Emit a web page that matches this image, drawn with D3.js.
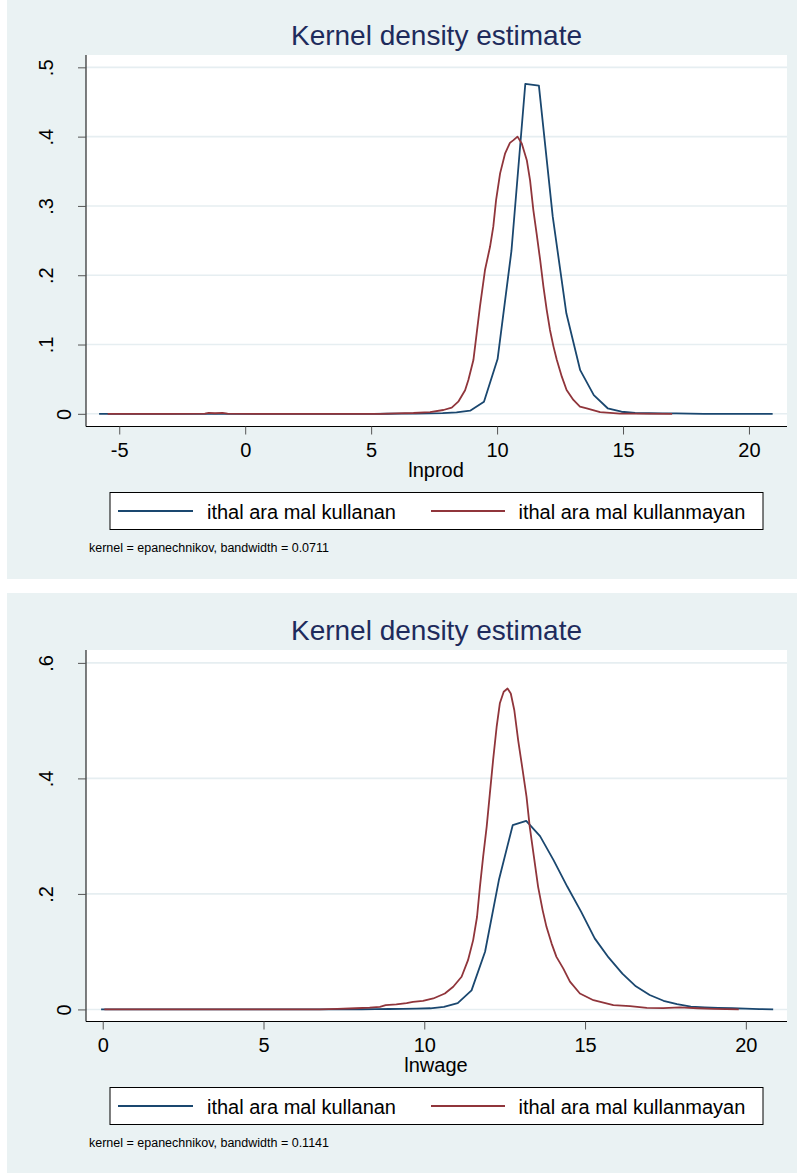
<!DOCTYPE html>
<html>
<head>
<meta charset="utf-8">
<script src="https://cdn.jsdelivr.net/npm/d3@7"></script>
<style>
  html, body { margin: 0; padding: 0; background: #ffffff; }
  svg { display: block; }
  text { font-family: "Liberation Sans", Arial, Helvetica, sans-serif; }
</style>
</head>
<body>
<svg id="chart" width="797" height="1173"></svg>
<script>
// ---------------- DATA ----------------
const seriesNames = ["ithal ara mal kullanan", "ithal ara mal kullanmayan"];
const chartTitle = "Kernel density estimate";

// Panel 1: lnprod
const prodTitle = "lnprod";
const prodNote = "kernel = epanechnikov, bandwidth = 0.0711";
const prodXTicks = [-5, 0, 5, 10, 15, 20];
const prodXTickLabels = ["-5", "0", "5", "10", "15", "20"];
const prodYTicks = [0, 0.1, 0.2, 0.3, 0.4, 0.5];
const prodYTickLabels = ["0", ".1", ".2", ".3", ".4", ".5"];

const prodUserX = [-5.80, -5.25, -4.71, -4.16, -3.62, -3.07, -2.53, -1.98, -1.43, -0.89,
  -0.34, 0.20, 0.75, 1.29, 1.84, 2.39, 2.93, 3.48, 4.02, 4.57,
  5.11, 5.66, 6.21, 6.75, 7.30, 7.84, 8.39, 8.93, 9.48, 10.02,
  10.57, 11.12, 11.66, 12.21, 12.75, 13.30, 13.84, 14.39, 14.94, 15.48,
  16.03, 16.57, 17.12, 17.66, 18.21, 18.76, 19.30, 19.85, 20.39, 20.94];
const prodUserY = [0, 0, 0, 0, 0, 0, 0, 0, 0, 0,
  0, 0, 0, 0, 0, 0, 0, 0, 0, 0,
  0, 0.0001, 0.0002, 0.0003, 0.0006, 0.001, 0.0022, 0.0045, 0.0175, 0.079,
  0.235, 0.476, 0.4735, 0.2845, 0.145, 0.063, 0.027, 0.008, 0.003, 0.0012,
  0.0008, 0.0006, 0.0005, 0.0002, 0, 0, 0, 0, 0, 0];

const prodNonUserX = [-5.46, -3.0, -1.6, -1.45, -1.2, -0.9, -0.7, 0.5, 5.35, 6.0,
  6.68, 7.34, 7.87, 8.20, 8.46, 8.73, 8.86, 9.06, 9.19, 9.32,
  9.52, 9.72, 9.85, 9.96, 10.12, 10.32, 10.51, 10.65, 10.81, 10.98,
  11.18, 11.31, 11.44, 11.57, 11.71, 11.84, 11.97, 12.10, 12.24, 12.37,
  12.57, 12.76, 13.03, 13.29, 13.56, 14.09, 14.88, 15.5, 16.95];
const prodNonUserY = [0, 0, 0.0003, 0.0015, 0.0008, 0.0015, 0.0003, 0, 0, 0.0005,
  0.0012, 0.0025, 0.0055, 0.009, 0.0175, 0.034, 0.0488, 0.0776, 0.116, 0.1546,
  0.2075, 0.241, 0.270, 0.3085, 0.347, 0.376, 0.391, 0.395, 0.400, 0.390,
  0.366, 0.337, 0.294, 0.260, 0.222, 0.1835, 0.150, 0.121, 0.097, 0.078,
  0.0536, 0.0343, 0.020, 0.0103, 0.008, 0.0025, 0.0004, 0.0002, 0];

// Panel 2: lnwage
const wageTitle = "lnwage";
const wageNote = "kernel = epanechnikov, bandwidth = 0.1141";
const wageXTicks = [0, 5, 10, 15, 20];
const wageXTickLabels = ["0", "5", "10", "15", "20"];
const wageYTicks = [0, 0.2, 0.4, 0.6];
const wageYTickLabels = ["0", ".2", ".4", ".6"];

const wageUserX = [-0.05, 0.38, 0.80, 1.23, 1.66, 2.08, 2.51, 2.94, 3.36, 3.79,
  4.22, 4.64, 5.07, 5.49, 5.92, 6.35, 6.77, 7.20, 7.63, 8.05,
  8.48, 8.91, 9.33, 9.76, 10.19, 10.61, 11.04, 11.47, 11.89, 12.32,
  12.75, 13.17, 13.60, 14.02, 14.45, 14.88, 15.30, 15.73, 16.16, 16.58,
  17.01, 17.44, 17.86, 18.29, 18.72, 19.14, 19.57, 19.99, 20.42, 20.85];
const wageUserY = [0, 0, 0, 0, 0, 0, 0, 0, 0, 0,
  0, 0, 0, 0, 0, 0, 0, 0.0001, 0.0002, 0.0003,
  0.0005, 0.0007, 0.001, 0.0013, 0.002, 0.0045, 0.011, 0.033, 0.0998, 0.224,
  0.319, 0.3265, 0.300, 0.2585, 0.2123, 0.169, 0.123, 0.090, 0.062, 0.040,
  0.025, 0.015, 0.009, 0.005, 0.0035, 0.0025, 0.002, 0.0015, 0.0006, 0.0002];

const wageNonUserX = [0.05, 3.0, 6.75, 7.3, 7.87, 8.3, 8.62, 8.8, 9.13, 9.45,
  9.65, 9.96, 10.28, 10.64, 10.90, 11.16, 11.36, 11.52, 11.64, 11.73,
  11.83, 11.94, 12.04, 12.14, 12.25, 12.35, 12.47, 12.59, 12.69, 12.80,
  12.92, 13.06, 13.18, 13.28, 13.41, 13.54, 13.68, 13.80, 13.96, 14.11,
  14.32, 14.53, 14.84, 15.26, 15.88, 16.40, 16.92, 17.43, 17.95, 18.5,
  19.0, 19.78];
const wageNonUserY = [0, 0, 0, 0.001, 0.002, 0.003, 0.0046, 0.0075, 0.0086, 0.011,
  0.0132, 0.0149, 0.019, 0.0276, 0.0392, 0.0565, 0.0853, 0.120, 0.160, 0.2123,
  0.264, 0.316, 0.374, 0.4315, 0.489, 0.530, 0.550, 0.5556, 0.547, 0.518,
  0.466, 0.414, 0.368, 0.316, 0.264, 0.2123, 0.172, 0.143, 0.114, 0.091,
  0.071, 0.048, 0.0276, 0.016, 0.0074, 0.0057, 0.0028, 0.0022, 0.0034, 0.002,
  0.001, 0];

// ---------------- STYLE ----------------
const colors = ["#1a476f", "#90353b"];
const bgColor = "#eaf2f3";
const gridColor = "#e6eef1";
const titleColor = "#1e2b5c";

const panels = [
  { offset: 0, xDomain: [-6.32, 21.51], yDomain: [-0.0183, 0.5178],
    xTicks: prodXTicks, xLabels: prodXTickLabels, yTicks: prodYTicks, yLabels: prodYTickLabels,
    xTitle: prodTitle, note: prodNote,
    series: [d3.zip(prodUserX, prodUserY), d3.zip(prodNonUserX, prodNonUserY)] },
  { offset: 595, xDomain: [-0.52, 21.28], yDomain: [-0.0209, 0.6223],
    xTicks: wageXTicks, xLabels: wageXTickLabels, yTicks: wageYTicks, yLabels: wageYTickLabels,
    xTitle: wageTitle, note: wageNote,
    series: [d3.zip(wageUserX, wageUserY), d3.zip(wageNonUserX, wageNonUserY)] }
];

const svg = d3.select("#chart");
const plotL = 86, plotR = 787, plotT = 55, plotB = 426.5;

panels.forEach(p => {
  const g = svg.append("g").attr("transform", `translate(0,${p.offset})`);
  g.append("rect").attr("x", 7).attr("y", p.offset === 0 ? 0 : -2)
    .attr("width", 790).attr("height", p.offset === 0 ? 579 : 580)
    .attr("fill", bgColor);
  g.append("rect").attr("x", plotL).attr("y", plotT)
    .attr("width", plotR - plotL).attr("height", plotB - plotT)
    .attr("fill", "#ffffff");

  const x = d3.scaleLinear().domain(p.xDomain).range([plotL, plotR]);
  const y = d3.scaleLinear().domain(p.yDomain).range([plotB, plotT]);

  g.append("g").selectAll("line").data(p.yTicks).join("line")
    .attr("x1", plotL).attr("x2", plotR)
    .attr("y1", d => y(d)).attr("y2", d => y(d))
    .attr("stroke", gridColor).attr("stroke-width", 1.6);

  g.append("text").attr("x", (plotL + plotR) / 2).attr("y", 45)
    .attr("text-anchor", "middle").attr("font-size", 28)
    .attr("fill", titleColor).text(chartTitle);

  const line = d3.line().x(d => x(d[0])).y(d => y(d[1]));
  p.series.forEach((s, i) => {
    g.append("path").datum(s).attr("d", line)
      .attr("fill", "none").attr("stroke", colors[i])
      .attr("stroke-width", 1.8).attr("stroke-linejoin", "round");
  });

  const yAxis = g.append("g").attr("transform", `translate(${plotL},0)`)
    .call(d3.axisLeft(y).tickValues(p.yTicks).tickSize(8)
      .tickFormat((d, i) => p.yLabels[i]));
  yAxis.select(".domain").attr("d", `M0,${plotT}V${plotB}`).attr("stroke", "#000");
  yAxis.selectAll(".tick line").attr("stroke", "#555");
  yAxis.selectAll(".tick text")
    .attr("x", null).attr("dy", null)
    .attr("transform", d => `translate(${d === 0 ? -15 : -33},0) rotate(-90)`)
    .attr("text-anchor", "middle").attr("font-size", 20)
    .attr("font-family", "Liberation Sans, Arial, sans-serif").attr("fill", "#000");

  const xAxis = g.append("g").attr("transform", `translate(0,${plotB})`)
    .call(d3.axisBottom(x).tickValues(p.xTicks).tickSize(8).tickPadding(8)
      .tickFormat((d, i) => p.xLabels[i]));
  xAxis.select(".domain").attr("d", `M${plotL},0H${plotR}`).attr("stroke", "#000");
  xAxis.selectAll(".tick line").attr("stroke", "#555");
  xAxis.selectAll(".tick text").attr("font-size", 20)
    .attr("font-family", "Liberation Sans, Arial, sans-serif").attr("fill", "#000");

  g.append("text").attr("x", 436).attr("y", 477)
    .attr("text-anchor", "middle").attr("font-size", 20).attr("fill", "#000")
    .text(p.xTitle);

  const lg = g.append("g");
  lg.append("rect").attr("x", 110).attr("y", 492.5).attr("width", 653).attr("height", 37)
    .attr("fill", "#fff").attr("stroke", "#000").attr("stroke-width", 1);
  const legX = [[118, 193, 207], [431, 505, 518.5]];
  seriesNames.forEach((name, i) => {
    lg.append("line").attr("x1", legX[i][0]).attr("x2", legX[i][1])
      .attr("y1", 511).attr("y2", 511)
      .attr("stroke", colors[i]).attr("stroke-width", 2);
    lg.append("text").attr("x", legX[i][2]).attr("y", 519)
      .attr("font-size", 20).attr("fill", "#000").text(name);
  });

  g.append("text").attr("x", 89).attr("y", 552)
    .attr("font-size", 12.5).attr("fill", "#000").text(p.note);
});
</script>
</body>
</html>
